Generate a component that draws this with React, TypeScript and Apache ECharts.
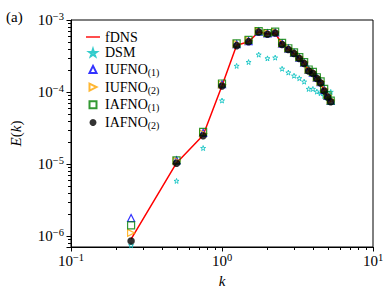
import React, { useEffect, useRef } from 'react';
import * as echarts from 'echarts';

const kValues = [0.25, 0.5, 0.75, 1.0, 1.25, 1.5, 1.75, 2.0, 2.25, 2.5, 2.75, 3.0, 3.25, 3.5, 3.75, 4.0, 4.25, 4.5, 4.75, 5.0, 5.25];
const fDNS = [9.0e-7, 1.03e-5, 2.5e-5, 1.22e-4, 4.45e-4, 5.0e-4, 6.8e-4, 6.4e-4, 6.6e-4, 4.6e-4, 3.9e-4, 3.42e-4, 2.92e-4, 2.5e-4, 1.98e-4, 1.82e-4, 1.55e-4, 1.34e-4, 1.05e-4, 8.6e-5, 7.3e-5];
const DSM = [7.4e-7, 5.8e-6, 1.66e-5, 7.6e-5, 2.3e-4, 2.6e-4, 3.3e-4, 2.93e-4, 3.0e-4, 2.1e-4, 1.86e-4, 1.68e-4, 1.55e-4, 1.39e-4, 1.1e-4, 1.1e-4, 1.01e-4, 9.6e-5, 8.8e-5, 8.2e-5, 1.0e-4];
const IUFNO1 = [1.77e-6, 1.12e-5, 2.7e-5, 1.28e-4, 4.6e-4, 5.1e-4, 6.9e-4, 6.5e-4, 6.7e-4, 4.7e-4, 4.0e-4, 3.5e-4, 3.0e-4, 2.55e-4, 2.02e-4, 1.86e-4, 1.58e-4, 1.37e-4, 1.07e-4, 8.8e-5, 7.5e-5];
const IUFNO2 = [1.1e-6, 1.1e-5, 2.65e-5, 1.27e-4, 4.65e-4, 5.2e-4, 7.0e-4, 6.6e-4, 6.8e-4, 4.75e-4, 4.05e-4, 3.55e-4, 3.05e-4, 2.6e-4, 2.05e-4, 1.9e-4, 1.6e-4, 1.4e-4, 1.1e-4, 9.0e-5, 7.7e-5];
const IAFNO1 = [1.4e-6, 1.12e-5, 2.78e-5, 1.31e-4, 4.73e-4, 5.3e-4, 7.0e-4, 6.6e-4, 6.9e-4, 4.8e-4, 4.05e-4, 3.55e-4, 3.05e-4, 2.6e-4, 2.05e-4, 1.9e-4, 1.6e-4, 1.4e-4, 1.1e-4, 9.0e-5, 7.6e-5];
const IAFNO2 = [8.5e-7, 1.02e-5, 2.46e-5, 1.21e-4, 4.4e-4, 5.0e-4, 6.8e-4, 6.35e-4, 6.6e-4, 4.56e-4, 3.89e-4, 3.42e-4, 2.91e-4, 2.48e-4, 1.96e-4, 1.8e-4, 1.54e-4, 1.33e-4, 1.03e-4, 8.5e-5, 7.3e-5];

const xRange = [0.1, 10];
const yRange = [7e-7, 1e-3];
const xMinorTicks = [0.2, 0.3, 0.4, 0.5, 0.6, 0.7, 0.8, 0.9, 2, 3, 4, 5, 6, 7, 8, 9];
const yMinorTicks = [8e-7, 9e-7, 2e-6, 3e-6, 4e-6, 5e-6, 6e-6, 7e-6, 8e-6, 9e-6, 2e-5, 3e-5, 4e-5, 5e-5, 6e-5, 7e-5, 8e-5, 9e-5, 2e-4, 3e-4, 4e-4, 5e-4, 6e-4, 7e-4, 8e-4, 9e-4];
const legendNames = ['fDNS', 'DSM', 'IUFNO1', 'IUFNO2', 'IAFNO1', 'IAFNO2'];

const FONT = 'Liberation Serif';
const STAR = 'path://M50,0 L61,35 L98,35 L68,57 L79,91 L50,70 L21,91 L32,57 L2,35 L39,35 Z';
const RTRI = 'path://M0,0 L100,50 L0,100 Z';
const UTRI = 'path://M50,0 L100,100 L0,100 Z';
const SQR = 'path://M0,0 L100,0 L100,100 L0,100 Z';
const LINE = 'path://M0,0 L100,0 L100,10 L0,10 Z';

const pairs = (ys: number[]) => kValues.map((k, i) => [k, ys[i]]);

const powLabel = (v: number) => {
  const e = Math.round(Math.log10(v));
  if (Math.abs(Math.log10(v) - e) > 1e-6) return '';
  return `{b|10}{s|${e < 0 ? '\u2212' + -e : e}}`;
};

const labelRich = {
  b: { fontSize: 15, fontFamily: FONT, color: '#000' },
  s: { fontSize: 10.5, fontFamily: FONT, color: '#000', padding: [0, 0, 7, 0] },
};

export default function App() {
  const ref = useRef<HTMLDivElement>(null);
  useEffect(() => {
    const chart = echarts.init(ref.current!, null, { renderer: 'svg' });
    const hollow = (c: string, w = 1.2) => ({ color: 'rgba(255,255,255,0)', borderColor: c, borderWidth: w });
    const icons: Record<string, string> = { fDNS: LINE, DSM: STAR, IUFNO1: UTRI, IUFNO2: RTRI, IAFNO1: SQR, IAFNO2: 'circle' };
    const tickSeries = (vals: number[], horizontal: boolean) => ({
      type: 'custom', clip: false, z: 10, silent: true,
      data: vals.map((v) => (horizontal ? [v, 1e-5] : [1, v])),
      renderItem: (params: any, api: any) => {
        const cs = params.coordSys;
        const p = api.coord([api.value(0), api.value(1)]);
        const bottom = Math.round(cs.y + cs.height);
        const left = Math.round(cs.x);
        const shape = horizontal
          ? { x1: Math.round(p[0]) + 0.5, y1: bottom, x2: Math.round(p[0]) + 0.5, y2: bottom + 3 }
          : { x1: left - 3, y1: Math.round(p[1]) + 0.5, x2: left, y2: Math.round(p[1]) + 0.5 };
        return { type: 'line', shape, style: { stroke: '#000', lineWidth: 1 } };
      },
    });
    chart.setOption({
      animation: false,
      textStyle: { fontFamily: FONT },
      title: { text: '(a)', left: 1, top: 4, textStyle: { fontFamily: FONT, fontSize: 15, fontWeight: 'normal', color: '#000' } },
      grid: { left: 67, right: 19, top: 20, bottom: 48, show: true, borderColor: '#000', borderWidth: 1, backgroundColor: 'transparent' },
      legend: {
        data: legendNames.map((n) => ({ name: n, icon: icons[n] })),
        orient: 'vertical',
        left: 81,
        top: 25,
        itemWidth: 14,
        itemHeight: 7,
        itemGap: 1.7,
        symbolKeepAspect: true,
        textStyle: {
          fontFamily: FONT, fontSize: 14, color: '#000',
          rich: {
            m: { fontSize: 14, fontFamily: FONT, color: '#000', lineHeight: 16 },
            sub: { fontSize: 10, fontFamily: FONT, color: '#000', lineHeight: 10, padding: [6, 0, 0, 0] },
          },
        },
        formatter: (n: string) => {
          const m = n.match(/^(.*?)(\d)$/);
          return m ? `{m|${m[1]}}{sub|(${m[2]})}` : `{m|${n}}`;
        },
      },
      xAxis: {
        type: 'log', logBase: 10, min: xRange[0], max: xRange[1],
        name: 'k', nameLocation: 'middle', nameGap: 23,
        nameTextStyle: { fontFamily: FONT, fontSize: 15, fontStyle: 'italic', color: '#000' },
        axisLine: { lineStyle: { color: '#000' } },
        axisTick: { length: 4.5, lineStyle: { color: '#000' } },
        axisLabel: { margin: 5, fontFamily: FONT, formatter: powLabel, rich: labelRich },
        splitLine: { show: false },
      },
      yAxis: {
        type: 'log', logBase: 10, min: yRange[0], max: yRange[1],
        name: '{i|E}({i|k})', nameLocation: 'middle', nameGap: 48, nameRotate: 90,
        nameTextStyle: {
          fontFamily: FONT, fontSize: 15, color: '#000',
          rich: { i: { fontFamily: FONT, fontSize: 15, fontStyle: 'italic', color: '#000' } },
        },
        axisLine: { show: true, lineStyle: { color: '#000' } },
        axisTick: { length: 4.5, lineStyle: { color: '#000' } },
        axisLabel: { margin: 7, fontFamily: FONT, formatter: powLabel, rich: labelRich },
        splitLine: { show: false },
      },
      series: [
        { name: 'fDNS', type: 'line', data: pairs(fDNS), showSymbol: false, symbol: 'none', lineStyle: { color: '#ff0000', width: 1.5 }, itemStyle: { color: '#ff0000' }, z: 2 },
        { name: 'DSM', type: 'scatter', data: pairs(DSM), symbol: STAR, symbolSize: 5, itemStyle: hollow('#00bfbf', 1), z: 3 },
        { name: 'IUFNO1', type: 'scatter', data: pairs(IUFNO1), symbol: UTRI, symbolSize: 7, itemStyle: hollow('#0000ff'), z: 4 },
        { name: 'IUFNO2', type: 'scatter', data: pairs(IUFNO2), symbol: RTRI, symbolSize: 7, itemStyle: hollow('#ffa500'), z: 5 },
        { name: 'IAFNO1', type: 'scatter', data: pairs(IAFNO1), symbol: SQR, symbolSize: 7, itemStyle: hollow('#008000'), z: 6 },
        { name: 'IAFNO2', type: 'scatter', data: pairs(IAFNO2), symbol: 'circle', symbolSize: 7.5, itemStyle: { color: '#000' }, z: 7 },
        tickSeries(xMinorTicks, true),
        tickSeries(yMinorTicks, false),
      ],
    });
    return () => chart.dispose();
  }, []);
  return <div ref={ref} style={{ position: 'absolute', left: 0, top: 0, width: 392, height: 295 }} />;
}
